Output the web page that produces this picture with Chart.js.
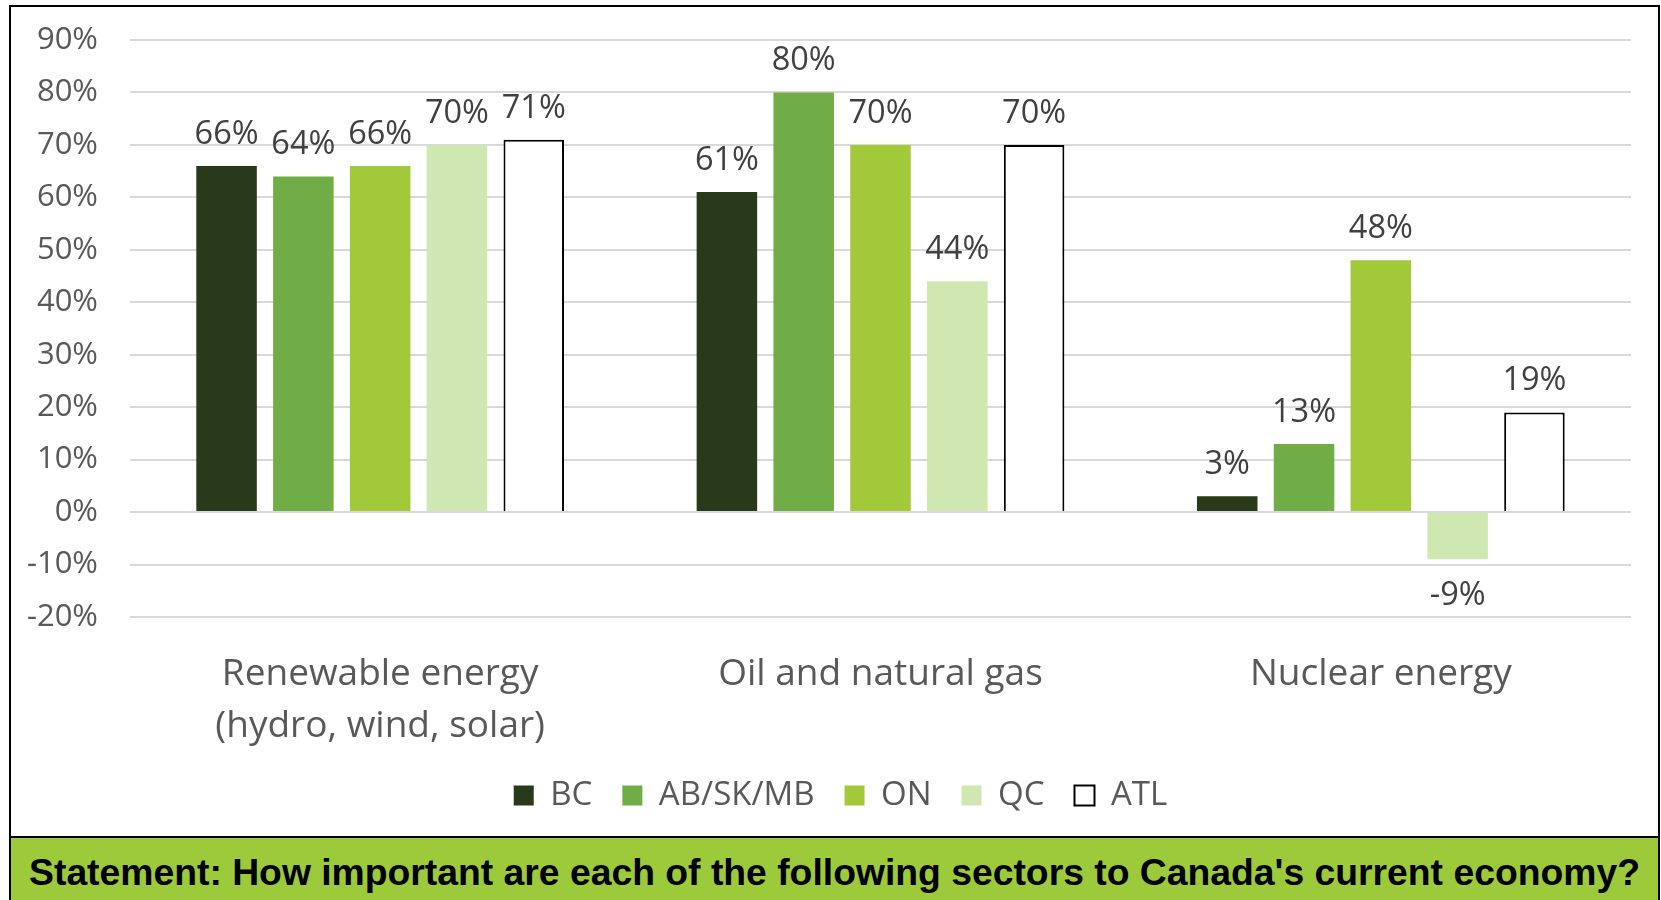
<!DOCTYPE html>
<html>
<head>
<meta charset="utf-8">
<script src="https://cdn.jsdelivr.net/npm/chart.js@4.4.1/dist/chart.umd.min.js"></script>
<style>
  html, body { margin: 0; padding: 0; background: #fff; width: 1661px; height: 900px; overflow: hidden; }
  #wrap { position: absolute; left: 0; top: 0; width: 1661px; height: 836px; }
  #wrap canvas { display: block; }
  #frame { position: absolute; left: 9px; top: 5px; width: 1651px; height: 895px; border: 2px solid #000; border-bottom: none; box-sizing: border-box; pointer-events: none; }
  #note { position: absolute; left: 11px; top: 836px; width: 1647px; height: 64px; border-top: 2px solid #000; box-sizing: border-box; background: #9DCA3B; font: bold 37.3px "Liberation Sans", Arial, sans-serif; color: #000; text-align: center; line-height: 62px; padding-top: 3px; white-space: nowrap; }
</style>
</head>
<body>
<div id="wrap"><canvas id="chart" width="1661" height="836"></canvas></div>
<div id="note">Statement: How important are each of the following sectors to Canada's current economy?</div>
<div id="frame"></div>
<script>
// Sectors on the x axis
const categories = [['Renewable energy', '(hydro, wind, solar)'], 'Oil and natural gas', 'Nuclear energy'];

// Net importance (%) by region
const regions = ['BC', 'AB/SK/MB', 'ON', 'QC', 'ATL'];
const bcValues = [66, 61, 3];
const abSkMbValues = [64, 80, 13];
const onValues = [66, 70, 48];
const qcValues = [70, 44, -9];
const atlValues = [71, 70, 19];

// Value axis range
const yMin = -20;
const yMax = 90;
const yStep = 10;

const FONT = '"Open Sans", "Noto Sans", sans-serif';

// Draws the value above each bar (below for negative bars)
const valueLabels = {
  id: 'valueLabels',
  afterDatasetsDraw(chart) {
    const ctx = chart.ctx;
    ctx.save();
    ctx.font = '32.5px ' + FONT;
    ctx.fillStyle = '#404040';
    ctx.textAlign = 'center';
    ctx.textBaseline = 'alphabetic';
    chart.data.datasets.forEach((ds, i) => {
      const meta = chart.getDatasetMeta(i);
      meta.data.forEach((bar, j) => {
        const v = ds.data[j];
        const y = v >= 0 ? bar.y - 22 : bar.y + 46;
        ctx.fillText(v + '%', bar.x, y);
      });
    });
    ctx.restore();
  }
};

// Centres the legend row under the framed chart rather than the padded box
const legendShift = {
  id: 'legendShift',
  afterLayout(chart) {
    const lg = chart.legend;
    if (!lg) return;
    lg.left = 50;
    lg.width = lg.right - lg.left;
  }
};

const barStyle = { barPercentage: 0.788, categoryPercentage: 0.7675, borderWidth: 0 };

new Chart(document.getElementById('chart'), {
  type: 'bar',
  data: {
    labels: categories,
    datasets: [
      { label: regions[0], data: bcValues, backgroundColor: '#283A1A', ...barStyle },
      { label: regions[1], data: abSkMbValues, backgroundColor: '#70AD47', ...barStyle },
      { label: regions[2], data: onValues, backgroundColor: '#A1C93A', ...barStyle },
      { label: regions[3], data: qcValues, backgroundColor: '#CFE8B1', ...barStyle },
      { label: regions[4], data: atlValues, backgroundColor: '#FFFFFF', ...barStyle, borderColor: '#000000', borderWidth: 2 }
    ]
  },
  options: {
    responsive: false,
    animation: false,
    events: [],
    layout: { padding: { left: 18, right: 30, top: 40, bottom: 14 } },
    scales: {
      x: {
        grid: { display: false },
        border: { display: false },
        ticks: {
          color: '#595959',
          font: { family: FONT, size: 37, lineHeight: 1.41 },
          padding: 23,
          maxRotation: 0,
          autoSkip: false
        },
        afterFit(scale) { scale.height = 132; }
      },
      y: {
        min: yMin,
        max: yMax,
        grid: { color: '#D9D9D9', lineWidth: 2, drawTicks: false },
        border: { display: false },
        ticks: {
          stepSize: yStep,
          color: '#595959',
          font: { family: FONT, size: 31 },
          padding: 32,
          callback: (v) => v + '%'
        },
        afterFit(scale) {
          scale.width = 112;
          scale.paddingTop = 0;
          scale.paddingBottom = 0;
        }
      }
    },
    plugins: {
      tooltip: { enabled: false },
      legend: {
        position: 'bottom',
        labels: {
          color: '#595959',
          font: { family: FONT, size: 33 },
          boxWidth: 20,
          boxHeight: 20,
          padding: 30
        }
      }
    }
  },
  plugins: [valueLabels, legendShift]
});
</script>
</body>
</html>
